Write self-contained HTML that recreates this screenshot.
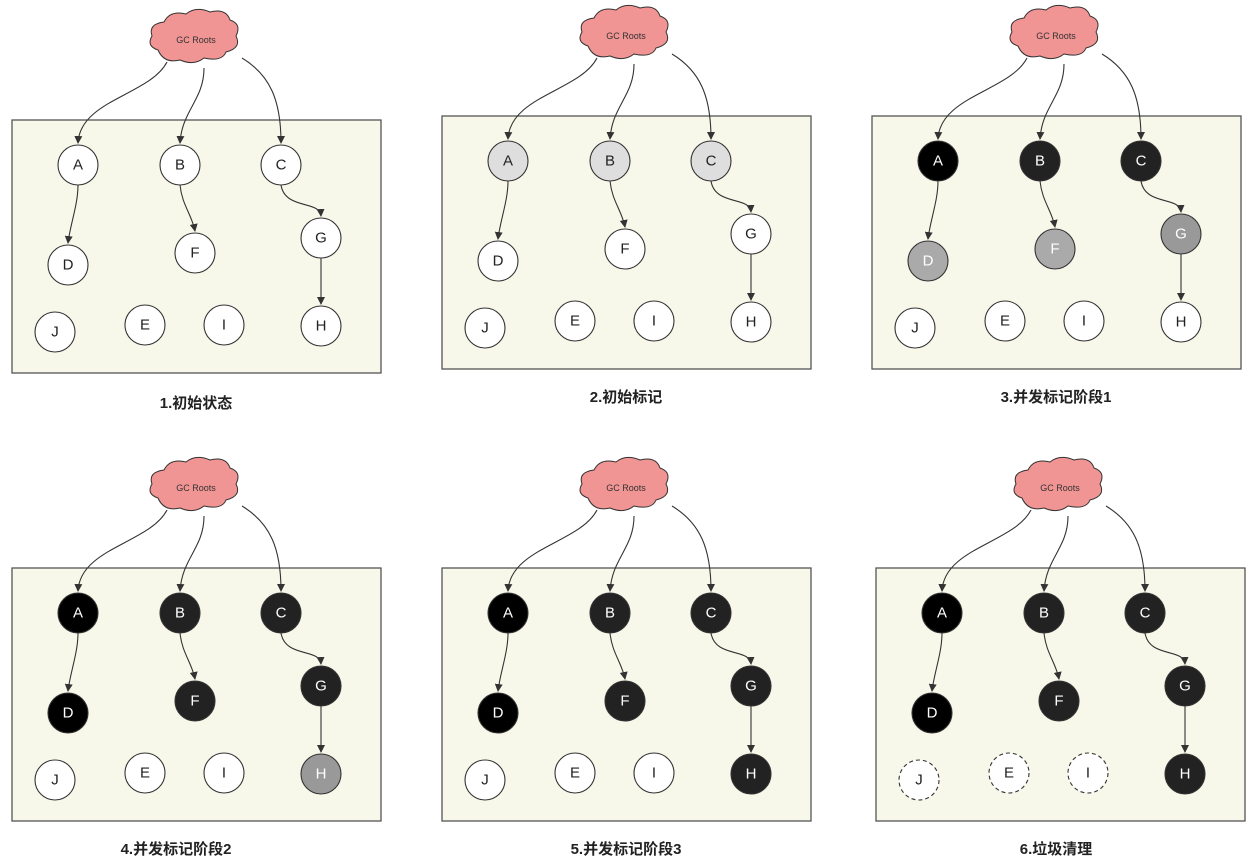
<!DOCTYPE html>
<html><head><meta charset="utf-8"><style>
html,body{margin:0;padding:0;background:#fff;}
svg{display:block;font-family:"Liberation Sans","Noto Sans CJK SC",sans-serif;}
.p{fill:#f8f8ea;stroke:#555;stroke-width:1.3}
.cl{fill:#f19494;stroke:#333;stroke-width:1}
.e{fill:none;stroke:#333;stroke-width:1.1;marker-end:url(#ar)}
.n{stroke:#333;stroke-width:1.1}
.w{fill:#fff}.lg{fill:#dedede}.bk{fill:#000}.dk{fill:#222}.g1{fill:#aaa}.g2{fill:#999}
.dsh{fill:#fff;stroke-dasharray:4 3}
.t{font-size:15px;text-anchor:middle;dominant-baseline:central;fill:#222}
.tw{fill:#fff}
.ct{font-size:9px;text-anchor:middle;fill:#333}
.lb{font-size:15px;font-weight:bold;text-anchor:middle;fill:#222}
</style></head><body>
<svg width="1253" height="858" viewBox="0 0 1253 858">
<defs>
<marker id="ar" markerWidth="8" markerHeight="8" refX="7" refY="4" orient="auto" markerUnits="userSpaceOnUse"><path d="M0,0 L8,4 L0,8 z" fill="#333"/></marker>
<path id="cloud" d="M-38,10 q-12,-4 -6,-14 q-4,-12 12,-14 q6,-12 22,-8 q10,-8 24,-2 q16,-4 20,8 q12,4 6,16 q6,12 -10,16 q-4,10 -22,6 q-10,8 -24,2 q-16,4 -22,-10 z"/>
<g id="base">
<use href="#cloud" class="cl" transform="translate(196,40)"/>
<path class="e" d="M167,62 C150,95 80,100 78,143"/>
<path class="e" d="M204,68 C204,100 182,110 180,143"/>
<path class="e" d="M242,58 C270,75 281,100 281,143"/>
<path class="e" d="M78,185 C78,205 70,225 68,243"/>
<path class="e" d="M180,185 C182,205 192,215 195,231"/>
<path class="e" d="M281,185 C285,210 320,200 321,216"/>
<path class="e" d="M321,258 L321,304"/>
</g>
</defs>

<!-- Panel 1 -->
<g>
<rect class="p" x="12" y="120" width="369" height="253"/>
<use href="#base"/>
<text class="ct" x="196" y="43">GC Roots</text>
<circle class="n w" cx="78" cy="165" r="20"/><text class="t" x="78" y="165">A</text>
<circle class="n w" cx="180" cy="165" r="20"/><text class="t" x="180" y="165">B</text>
<circle class="n w" cx="281" cy="165" r="20"/><text class="t" x="281" y="165">C</text>
<circle class="n w" cx="68" cy="265" r="20"/><text class="t" x="68" y="265">D</text>
<circle class="n w" cx="195" cy="253" r="20"/><text class="t" x="195" y="253">F</text>
<circle class="n w" cx="321" cy="238" r="20"/><text class="t" x="321" y="238">G</text>
<circle class="n w" cx="55" cy="332" r="20"/><text class="t" x="55" y="332">J</text>
<circle class="n w" cx="145" cy="325" r="20"/><text class="t" x="145" y="325">E</text>
<circle class="n w" cx="224" cy="325" r="20"/><text class="t" x="224" y="325">I</text>
<circle class="n w" cx="321" cy="326" r="20"/><text class="t" x="321" y="326">H</text>
<text class="lb" x="196" y="408">1.初始状态</text>
</g>

<!-- Panel 2 -->
<g transform="translate(430,-4)">
<rect class="p" x="12" y="120" width="369" height="253"/>
<use href="#base"/>
<text class="ct" x="196" y="43">GC Roots</text>
<circle class="n lg" cx="78" cy="165" r="20"/><text class="t" x="78" y="165">A</text>
<circle class="n lg" cx="180" cy="165" r="20"/><text class="t" x="180" y="165">B</text>
<circle class="n lg" cx="281" cy="165" r="20"/><text class="t" x="281" y="165">C</text>
<circle class="n w" cx="68" cy="265" r="20"/><text class="t" x="68" y="265">D</text>
<circle class="n w" cx="195" cy="253" r="20"/><text class="t" x="195" y="253">F</text>
<circle class="n w" cx="321" cy="238" r="20"/><text class="t" x="321" y="238">G</text>
<circle class="n w" cx="55" cy="332" r="20"/><text class="t" x="55" y="332">J</text>
<circle class="n w" cx="145" cy="325" r="20"/><text class="t" x="145" y="325">E</text>
<circle class="n w" cx="224" cy="325" r="20"/><text class="t" x="224" y="325">I</text>
<circle class="n w" cx="321" cy="326" r="20"/><text class="t" x="321" y="326">H</text>
<text class="lb" x="196" y="406">2.初始标记</text>
</g>

<!-- Panel 3 -->
<g transform="translate(860,-4)">
<rect class="p" x="12" y="120" width="369" height="253"/>
<use href="#base"/>
<text class="ct" x="196" y="43">GC Roots</text>
<circle class="n bk" cx="78" cy="165" r="20"/><text class="t tw" x="78" y="165">A</text>
<circle class="n dk" cx="180" cy="165" r="20"/><text class="t tw" x="180" y="165">B</text>
<circle class="n dk" cx="281" cy="165" r="20"/><text class="t tw" x="281" y="165">C</text>
<circle class="n g1" cx="68" cy="265" r="20"/><text class="t tw" x="68" y="265">D</text>
<circle class="n g1" cx="195" cy="253" r="20"/><text class="t tw" x="195" y="253">F</text>
<circle class="n g2" cx="321" cy="238" r="20"/><text class="t tw" x="321" y="238">G</text>
<circle class="n w" cx="55" cy="332" r="20"/><text class="t" x="55" y="332">J</text>
<circle class="n w" cx="145" cy="325" r="20"/><text class="t" x="145" y="325">E</text>
<circle class="n w" cx="224" cy="325" r="20"/><text class="t" x="224" y="325">I</text>
<circle class="n w" cx="321" cy="326" r="20"/><text class="t" x="321" y="326">H</text>
<text class="lb" x="196" y="406">3.并发标记阶段1</text>
</g>

<!-- Panel 4 -->
<g transform="translate(0,448)">
<rect class="p" x="12" y="120" width="369" height="253"/>
<use href="#base"/>
<text class="ct" x="196" y="43">GC Roots</text>
<circle class="n bk" cx="78" cy="165" r="20"/><text class="t tw" x="78" y="165">A</text>
<circle class="n dk" cx="180" cy="165" r="20"/><text class="t tw" x="180" y="165">B</text>
<circle class="n dk" cx="281" cy="165" r="20"/><text class="t tw" x="281" y="165">C</text>
<circle class="n bk" cx="68" cy="265" r="20"/><text class="t tw" x="68" y="265">D</text>
<circle class="n dk" cx="195" cy="253" r="20"/><text class="t tw" x="195" y="253">F</text>
<circle class="n dk" cx="321" cy="238" r="20"/><text class="t tw" x="321" y="238">G</text>
<circle class="n w" cx="55" cy="332" r="20"/><text class="t" x="55" y="332">J</text>
<circle class="n w" cx="145" cy="325" r="20"/><text class="t" x="145" y="325">E</text>
<circle class="n w" cx="224" cy="325" r="20"/><text class="t" x="224" y="325">I</text>
<circle class="n g2" cx="321" cy="326" r="20"/><text class="t tw" x="321" y="326">H</text>
<text class="lb" x="176" y="406">4.并发标记阶段2</text>
</g>

<!-- Panel 5 -->
<g transform="translate(430,448)">
<rect class="p" x="12" y="120" width="369" height="253"/>
<use href="#base"/>
<text class="ct" x="196" y="43">GC Roots</text>
<circle class="n bk" cx="78" cy="165" r="20"/><text class="t tw" x="78" y="165">A</text>
<circle class="n dk" cx="180" cy="165" r="20"/><text class="t tw" x="180" y="165">B</text>
<circle class="n dk" cx="281" cy="165" r="20"/><text class="t tw" x="281" y="165">C</text>
<circle class="n bk" cx="68" cy="265" r="20"/><text class="t tw" x="68" y="265">D</text>
<circle class="n dk" cx="195" cy="253" r="20"/><text class="t tw" x="195" y="253">F</text>
<circle class="n dk" cx="321" cy="238" r="20"/><text class="t tw" x="321" y="238">G</text>
<circle class="n w" cx="55" cy="332" r="20"/><text class="t" x="55" y="332">J</text>
<circle class="n w" cx="145" cy="325" r="20"/><text class="t" x="145" y="325">E</text>
<circle class="n w" cx="224" cy="325" r="20"/><text class="t" x="224" y="325">I</text>
<circle class="n dk" cx="321" cy="326" r="20"/><text class="t tw" x="321" y="326">H</text>
<text class="lb" x="196" y="406">5.并发标记阶段3</text>
</g>

<!-- Panel 6 -->
<g transform="translate(864,448)">
<rect class="p" x="12" y="120" width="369" height="253"/>
<use href="#base"/>
<text class="ct" x="196" y="43">GC Roots</text>
<circle class="n bk" cx="78" cy="165" r="20"/><text class="t tw" x="78" y="165">A</text>
<circle class="n dk" cx="180" cy="165" r="20"/><text class="t tw" x="180" y="165">B</text>
<circle class="n dk" cx="281" cy="165" r="20"/><text class="t tw" x="281" y="165">C</text>
<circle class="n bk" cx="68" cy="265" r="20"/><text class="t tw" x="68" y="265">D</text>
<circle class="n dk" cx="195" cy="253" r="20"/><text class="t tw" x="195" y="253">F</text>
<circle class="n dk" cx="321" cy="238" r="20"/><text class="t tw" x="321" y="238">G</text>
<circle class="n dsh" cx="55" cy="332" r="20"/><text class="t" x="55" y="332">J</text>
<circle class="n dsh" cx="145" cy="325" r="20"/><text class="t" x="145" y="325">E</text>
<circle class="n dsh" cx="224" cy="325" r="20"/><text class="t" x="224" y="325">I</text>
<circle class="n dk" cx="321" cy="326" r="20"/><text class="t tw" x="321" y="326">H</text>
<text class="lb" x="192" y="406">6.垃圾清理</text>
</g>
</svg>
</body></html>
